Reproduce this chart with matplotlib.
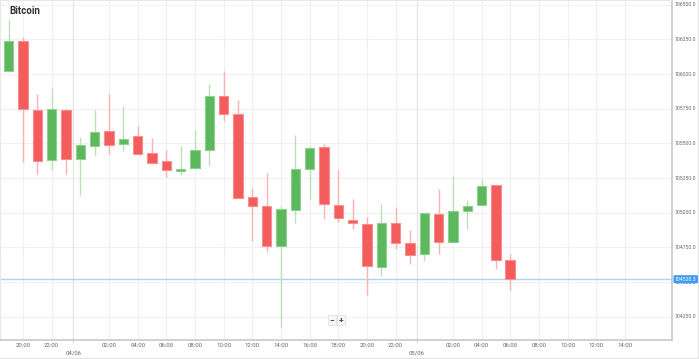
import matplotlib
matplotlib.use("Agg")
import matplotlib.pyplot as plt
import matplotlib.dates as mdates
from matplotlib.lines import Line2D
import pandas as pd

# ---------------- data ----------------
title = "Bitcoin"
start_time = "2025-06-03 19:00"
opens = [106024, 106240, 105743, 105378, 105743, 105385, 105479, 105589, 105495, 105553,
         105433, 105375, 105303, 105325, 105450, 105839, 105710, 105111, 105046, 104762,
         105019, 105313, 105472, 105058, 104950, 104919, 104608, 104924, 104779, 104702,
         104991, 104789, 105012, 105056, 105198, 104657]
highs = [106400, 106265, 105858, 105901, 105748, 105544, 105743, 105856, 105769, 105625,
         105537, 105450, 105483, 105596, 105928, 106024, 105813, 105180, 105288, 105048,
         105560, 105481, 105495, 105310, 105099, 104971, 105063, 105039, 104877, 104996,
         105173, 105265, 105089, 105241, 105202, 104704]
lows = [106020, 105366, 105279, 105308, 105279, 105130, 105411, 105423, 105447, 105425,
        105361, 105260, 105272, 105325, 105339, 105663, 105104, 104798, 104714, 104174,
        104928, 105101, 104957, 104935, 104880, 104406, 104546, 104740, 104630, 104654,
        104702, 104789, 104885, 105056, 104592, 104440]
closes = [106240, 105748, 105371, 105746, 105385, 105488, 105582, 105488, 105534, 105425,
          105361, 105306, 105317, 105450, 105839, 105710, 105104, 105048, 104758, 105025,
          105313, 105467, 105061, 104962, 104926, 104613, 104924, 104784, 104697, 104996,
          104789, 105010, 105048, 105190, 104657, 104520.3]
y_ticks = [104250, 104500, 104750, 105000, 105250, 105500, 105750, 106000, 106250, 106500]
time_tick_labels = ["20:00", "22:00", "02:00", "04:00", "06:00", "08:00", "10:00", "12:00",
                    "14:00", "16:00", "18:00", "20:00", "22:00", "02:00", "04:00", "06:00",
                    "08:00", "10:00", "12:00", "14:00"]
time_tick_stamps = ["2025-06-03 20:00", "2025-06-03 22:00", "2025-06-04 02:00", "2025-06-04 04:00",
                    "2025-06-04 06:00", "2025-06-04 08:00", "2025-06-04 10:00", "2025-06-04 12:00",
                    "2025-06-04 14:00", "2025-06-04 16:00", "2025-06-04 18:00", "2025-06-04 20:00",
                    "2025-06-04 22:00", "2025-06-05 02:00", "2025-06-05 04:00", "2025-06-05 06:00",
                    "2025-06-05 08:00", "2025-06-05 10:00", "2025-06-05 12:00", "2025-06-05 14:00"]
day_labels = ["04/06", "05/06"]
day_stamps = ["2025-06-03 23:30", "2025-06-04 23:30"]
current_price = 104520.3

# ---------------- style ----------------
GREEN = "#5cb85c"
GREEN_EDGE = "#8fd08f"
GREEN_WICK = "#b9e2b9"
RED = "#f45b5b"
RED_EDGE = "#f88e8e"
RED_WICK = "#f9b3b3"
GRID = "#f0f0f0"
TXT = "#666666"

plt.rcParams['font.family'] = ['Roboto', 'DejaVu Sans']

W, H = 699, 359
fig = plt.figure(figsize=(W / 100, H / 100), dpi=100)
fig.patch.set_facecolor("white")
ax = fig.add_axes([0, (H - 340) / H, 672 / W, 340 / H])

times = pd.date_range(start_time, periods=len(opens), freq="h")
x = mdates.date2num(times.to_pydatetime())
hour = 1 / 24.0

for xi, o, h, l, c in zip(x, opens, highs, lows, closes):
    up = c >= o
    wc = GREEN_WICK if up else RED_WICK
    ax.vlines(xi, l, h, color=wc, lw=1.0, zorder=2)
    lo, hi = min(o, c), max(o, c)
    ax.bar(xi, max(hi - lo, 12), bottom=lo, width=0.66 * hour,
           color=GREEN if up else RED, edgecolor=GREEN_EDGE if up else RED_EDGE,
           linewidth=0.8, zorder=3)

# limits
ax.set_ylim(104082, 106534)
x0 = x[0]
ax.set_xlim(x0 - 0.607 * hour, x0 + 46.29 * hour)

# grid
for yt in y_ticks:
    ax.axhline(yt, color=GRID, lw=0.9, zorder=0)
tick_x = mdates.date2num(pd.to_datetime(time_tick_stamps).to_pydatetime())
day_x = mdates.date2num(pd.to_datetime(day_stamps).to_pydatetime())
for tx in tick_x:
    ax.axvline(tx, color=GRID, lw=0.9, zorder=0)
for dx in day_x:
    ax.axvline(dx, color="#e4e4e4", lw=0.9, zorder=0)

# ticks
ax.set_xticks(tick_x)
ax.set_xticklabels(time_tick_labels, fontsize=4.3, color=TXT)
ax.tick_params(axis="x", which="major", length=0, pad=2.5)
ax.set_xticks(day_x, minor=True)
ax.set_xticklabels(day_labels, minor=True, fontsize=4.3, color=TXT)
ax.tick_params(axis="x", which="minor", length=2.5, color="#cccccc", pad=5.0)
ax.set_yticks([])

for yt in y_ticks:
    ax.text(675 / W, yt, f"{yt:.1f}", transform=fig.transFigure + 0 if False else
            matplotlib.transforms.blended_transform_factory(fig.transFigure, ax.transData),
            fontsize=3.7, color=TXT, va="center", ha="left", clip_on=False)

# spines
for s in ["top", "left"]:
    ax.spines[s].set_color("#e8e8e8")
    ax.spines[s].set_linewidth(0.8)
ax.spines["right"].set_color("#c8c8c8")
ax.spines["right"].set_linewidth(1.2)
ax.spines["bottom"].set_color("#c8c8c8")
ax.spines["bottom"].set_linewidth(1.2)

# current price line and label
ax.axhline(current_price, color="#a9d3f7", lw=1.0, zorder=1)
ax.text(675 / W, current_price, f"{current_price:.1f}",
        transform=matplotlib.transforms.blended_transform_factory(fig.transFigure, ax.transData),
        fontsize=3.7, color="white", va="center", ha="left", clip_on=False, zorder=5,
        bbox=dict(boxstyle="round,pad=0.3,rounding_size=0.25", fc="#3d9df2", ec="none"))

# title
fig.text(9 / W, 1 - 11 / H, title, fontsize=7, fontweight="bold", color="#333333",
         ha="left", va="center")

# zoom buttons
for bx, lab in [(332, "\u2212"), (341, "+")]:
    fig.text(bx / W, 1 - 320 / H, lab, fontsize=6, fontweight="bold", color="#444444",
             ha="center", va="center",
             bbox=dict(boxstyle="square,pad=0.15", fc="#f7f7f7", ec="#dddddd", lw=0.5))

# outer frame lines
fig.add_artist(Line2D([0, 1], [1.5 / H, 1.5 / H], color="#e3e3e3", lw=0.8))
fig.add_artist(Line2D([698 / W, 698 / W], [1.5 / H, 1], color="#e3e3e3", lw=0.8))

fig.savefig("out.png", dpi=100, facecolor="white")
